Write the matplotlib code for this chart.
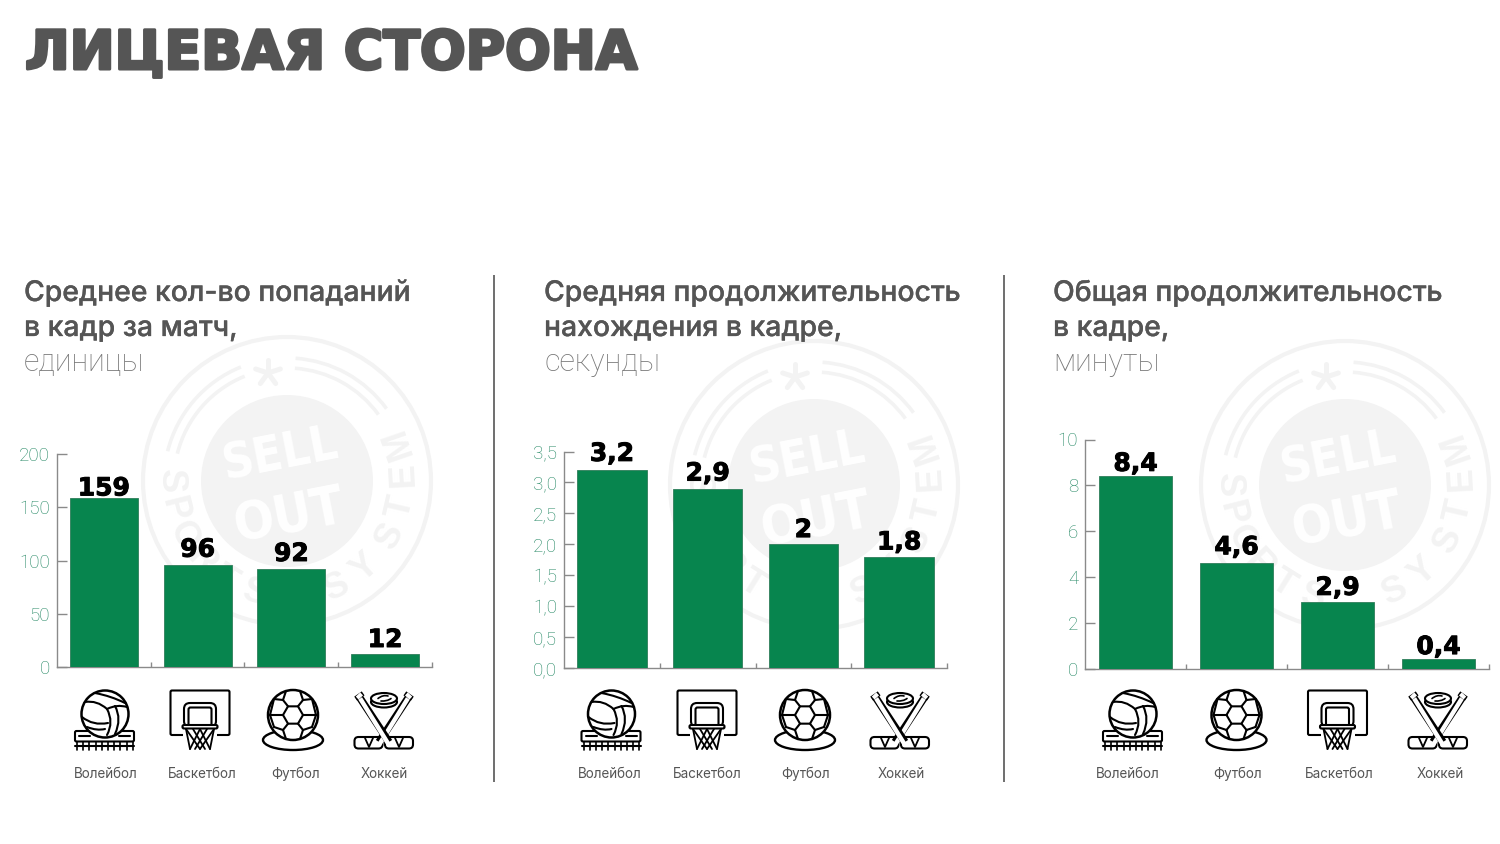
import numpy as np
import matplotlib
matplotlib.use("Agg")
import matplotlib.pyplot as plt
import matplotlib.patheffects as pe
from matplotlib.patches import Circle, Ellipse, FancyBboxPatch, PathPatch, Polygon, Arc
from matplotlib.path import Path

# ---------- data ----------
title = "ЛИЦЕВАЯ СТОРОНА"
head1 = ["Среднее кол-во попаданий", "в кадр за матч,", "единицы"]
head2 = ["Средняя продолжительность", "нахождения в кадре,", "секунды"]
head3 = ["Общая продолжительность", "в кадре,", "минуты"]

cats1 = ["Волейбол", "Баскетбол", "Футбол", "Хоккей"]
vals1 = [159, 96, 92, 12]
lab1 = ["159", "96", "92", "12"]
ticks1 = [0, 50, 100, 150, 200]
ticklab1 = ["0", "50", "100", "150", "200"]

cats2 = ["Волейбол", "Хоккей", "Футбол", "Баскетбол"]
vals2 = [3.2, 2.9, 2.0, 1.8]
lab2 = ["3,2", "2,9", "2", "1,8"]
ticks2 = [0, 0.5, 1, 1.5, 2, 2.5, 3, 3.5]
ticklab2 = ["0,0", "0,5", "1,0", "1,5", "2,0", "2,5", "3,0", "3,5"]

cats3 = ["Волейбол", "Футбол", "Баскетбол", "Хоккей"]
vals3 = [8.4, 4.6, 2.9, 0.4]
lab3 = ["8,4", "4,6", "2,9", "0,4"]
ticks3 = [0, 2, 4, 6, 8, 10]
ticklab3 = ["0", "2", "4", "6", "8", "10"]

# ---------- style / layout ----------
W, H = 1500, 844
GREEN = "#07854e"
GREEN_EDGE = "#2f7d5a"
TICK_TXT = "#1f8560"
AXIS = "#8a8a8a"
DARK = "#555555"
MARK = "#f3f3f3"
ILW = 1.5

fig = plt.figure(figsize=(W / 100, H / 100), dpi=100, facecolor="white")
bg = fig.add_axes([0, 0, 1, 1], zorder=0)
bg.set_xlim(0, W)
bg.set_ylim(H, 0)
bg.axis("off")


def ax_at(x0, x1, y_top, y_bot):
    return fig.add_axes([x0 / W, 1 - y_bot / H, (x1 - x0) / W, (y_bot - y_top) / H],
                        zorder=2, facecolor="none")


def curve(cx, cy, p0, c, p1, lw=ILW, color="black", z=6):
    p = Path([(cx + p0[0], cy + p0[1]), (cx + c[0], cy + c[1]), (cx + p1[0], cy + p1[1])],
             [Path.MOVETO, Path.CURVE3, Path.CURVE3])
    bg.add_patch(PathPatch(p, fc="none", ec=color, lw=lw, zorder=z, capstyle="round"))


def line(xs, ys, lw=ILW, color="black", z=6, cap="round"):
    bg.plot(xs, ys, color=color, lw=lw, zorder=z, solid_capstyle=cap, solid_joinstyle="round")


def rbox(x, y, w, h, r=2, fc="white", ec="black", lw=ILW, z=5):
    bg.add_patch(FancyBboxPatch((x + r, y + r), w - 2 * r, h - 2 * r,
                                boxstyle=f"round,pad={r},rounding_size={r}",
                                fc=fc, ec=ec, lw=lw, zorder=z))


def volleyball(cx):
    cy = 714
    rbox(cx - 30, 731, 59, 10.5, r=1.5)
    line([cx - 26, cx - 15], [736, 736])
    line([cx + 14, cx + 25], [736, 736])
    line([cx - 30, cx + 29], [745.5, 745.5])
    for dx in np.arange(-28, 30, 6.2):
        line([cx + dx, cx + dx], [742, 749.5], lw=1.2)
    bg.add_patch(Circle((cx, cy), 23.5, fc="white", ec="black", lw=ILW + 0.3, zorder=6))
    curve(cx, cy, (-20, -12), (-8, -14), (2, -5))
    curve(cx, cy, (-10, -21), (6, -18), (20, -11))
    curve(cx, cy, (2, -5), (12, -10), (22, -7))
    curve(cx, cy, (2, -5), (9, 8), (2, 21))
    curve(cx, cy, (10, -8), (17, 5), (10, 20))
    curve(cx, cy, (-23, 3), (-12, 12), (3, 9))
    curve(cx, cy, (-18, 13), (-8, 17), (0, 15))


def football(cx):
    cy = 715
    bg.add_patch(Ellipse((cx, 740), 60, 20, fc="white", ec="black", lw=ILW + 0.2, zorder=5))
    bg.add_patch(Circle((cx, cy), 25, fc="white", ec="black", lw=ILW + 0.3, zorder=6))
    ang = np.deg2rad(np.arange(0, 360, 60))
    bg.add_patch(Polygon(np.c_[cx + 10 * np.cos(ang), cy + 10 * np.sin(ang)], closed=True,
                         fc="none", ec="black", lw=ILW, zorder=7))
    for s in (-1, 1):
        segs = [((10, 0), (23, 0)), ((5, -8.7), (10, -15)), ((5, 8.7), (10, 15)),
                ((10, -15), (7, -24)), ((10, -15), (19, -16)), ((10, 15), (7, 24)),
                ((10, 15), (19, 12)), ((23, 0), (19, -16)), ((23, 0), (19, 12))]
        for (xa, ya), (xb, yb) in segs:
            line([cx + s * xa, cx + s * xb], [cy + ya, cy + yb], z=7)


def basket(cx):
    rbox(cx - 29.5, 690.5, 59, 44.5, r=1.5, z=5)
    bg.add_patch(Polygon([(cx - 17, 732), (cx + 17, 732), (cx + 17, 737), (cx - 17, 737)],
                         closed=True, fc="white", ec="none", zorder=6))
    rbox(cx - 16, 703, 32, 24, r=6, z=6)
    rbox(cx - 11.5, 707.5, 23, 20, r=2, z=6)
    rbox(cx - 17.5, 725, 35, 3.5, r=1.5, z=7)
    top = np.linspace(-14, 14, 5)
    bot = np.linspace(-10, 10, 5)
    for i in range(5):
        for j in (i - 2, i + 2):
            if 0 <= j < 5:
                line([cx + top[i], cx + bot[j]], [729, 749], lw=1.3, z=7)
    line([cx + top[0], cx + bot[0]], [729, 749], lw=1.3, z=7)
    line([cx + top[4], cx + bot[4]], [729, 749], lw=1.3, z=7)


def hockey(cx):
    rbox(cx - 29.5, 737, 28, 11.5, r=4, z=5)
    rbox(cx + 1, 737, 28, 11.5, r=4, z=5)
    for x0 in (cx - 15, cx + 15):
        line([x0 - 4, x0, x0 + 4], [738, 747, 738], lw=1.3, z=5)
    for xa, xb in ((cx + 26, cx - 5), (cx - 26, cx + 5)):
        line([xa, xb], [695, 742], lw=5.4, z=6, cap="butt")
        line([xa, xb], [695, 745], lw=3.2, color="white", z=6, cap="butt")
        xh = xa + (xb - xa) * 0.09
        line([xa, xh], [694, 698], lw=6.6, z=6, cap="butt")
        line([xa, xh], [694.5, 697.5], lw=4.4, color="white", z=6, cap="butt")
    bg.add_patch(Ellipse((cx, 702), 26, 11, fc="white", ec="black", lw=ILW, zorder=7))
    bg.add_patch(Ellipse((cx, 698.5), 26, 11, fc="white", ec="black", lw=ILW, zorder=7))
    curve(cx, 698.5, (-6, 0), (-1, -4), (4, -2.5), lw=1.2, z=8)
    curve(cx, 698.5, (-3, 2.5), (3, 3), (7, 0), lw=1.2, z=8)


ICONS = {"Волейбол": volleyball, "Футбол": football, "Баскетбол": basket, "Хоккей": hockey}


def watermark(cx, cy):
    bg.add_patch(Circle((cx, cy), 144, fc="none", ec=MARK, lw=3, zorder=1))
    bg.add_patch(Circle((cx, cy), 86, fc="#f3f3f3", ec="none", zorder=1))
    for r in (123, 113):
        d = 2 * r
        bg.add_patch(Arc((cx, cy), d, d, theta1=360 - 166, theta2=360 - 112, ec=MARK, lw=2.6, zorder=1))
        bg.add_patch(Arc((cx, cy), d, d, theta1=360 - 86, theta2=360 - 36, ec=MARK, lw=2.6, zorder=1))
    ax_, ay_ = cx - 19, cy - 108
    for a in np.deg2rad(np.arange(18, 360, 72)):
        line([ax_, ax_ + 13 * np.cos(a)], [ay_, ay_ - 13 * np.sin(a)], lw=3.6, color=MARK, z=1)
    bg.text(cx - 6, cy - 26, "SELL", family="DejaVu Sans", stretch="condensed", weight="bold", fontsize=35,
            color="white", ha="center", va="center", rotation=11, zorder=2)
    bg.text(cx + 2, cy + 36, "OUT", family="DejaVu Sans", stretch="condensed", weight="bold", fontsize=38,
            color="white", ha="center", va="center", rotation=11, zorder=2)
    letters = "SPORTSSYSTEM"
    angs = [180, 194, 208, 223, 238, 254, 295, 312, 332, 347, 363, 379]
    for ch, th in zip(letters, angs):
        t = np.deg2rad(th)
        bg.text(cx + 117 * np.cos(t), cy - 117 * np.sin(t), ch, family="Liberation Sans",
                weight="bold", fontsize=26, color=MARK, ha="center", va="center",
                rotation=th - 270, rotation_mode="anchor", zorder=1)


def panel(box, ylim, cats, vals, labs, lift, ticks, ticklabs, head, head_x, icon_x, lab_x, wm):
    x0, x1, yt, yb = box
    watermark(*wm)
    ax = ax_at(x0, x1, yt, yb)
    n = len(cats)
    ax.bar(range(n), vals, width=0.725, color=GREEN, edgecolor=GREEN_EDGE, linewidth=0.6, zorder=3)
    ax.set_xlim(-0.5, n - 0.5)
    ax.set_ylim(0, ylim)
    for s in ("top", "right"):
        ax.spines[s].set_visible(False)
    for s in ("left", "bottom"):
        ax.spines[s].set_color(AXIS)
        ax.spines[s].set_linewidth(1.0)
    ax.set_yticks(ticks)
    ax.set_yticklabels(ticklabs, family="Roboto", weight="light", fontsize=13.5, color=TICK_TXT)
    ax.tick_params(axis="y", direction="in", length=7, width=1.0, color=AXIS, pad=5)
    ax.set_xticks(np.arange(n) + 0.5)
    ax.set_xticklabels([])
    ax.tick_params(axis="x", direction="in", length=3.6, width=1.0, color=AXIS)
    for i, (v, l, d) in enumerate(zip(vals, labs, lift)):
        ax.annotate(l, (i, v), xytext=(0, d), textcoords="offset points", ha="center", va="bottom",
                    family="DejaVu Sans", weight="bold", fontsize=18, color="black", zorder=5,
                    path_effects=[pe.withStroke(linewidth=0.7, foreground="black")])
    for c, ix, lx in zip(cats, icon_x, lab_x):
        ICONS[c](ix)
        bg.text(lx, 778, c, family="Inter", fontsize=9.7, color=DARK, ha="center", va="baseline", zorder=6)
    for i, (s, yy) in enumerate(zip(head, (301, 336, 371))):
        if i < 2:
            bg.text(head_x, yy, s, family="Inter", weight="medium", fontsize=20.4, color=DARK,
                    ha="left", va="baseline", zorder=6,
                    path_effects=[pe.withStroke(linewidth=0.2, foreground=DARK)])
        else:
            bg.text(head_x, yy, s, family="Roboto", weight="light", fontsize=22, color="#777777",
                    ha="left", va="baseline", zorder=6)


panel((57, 432, 454, 667), 200, cats1, vals1, lab1, (-2.0, 2.2, 2.2, 1.6), ticks1, ticklab1, head1, 24,
      (105, 200, 293, 384), (106, 202, 296, 384), (287, 481))
panel((564, 947, 451.5, 668), 3.5, cats2, vals2, lab2, (3.0, 2.2, 1.6, 1.6), ticks2, ticklab2, head2, 544,
      (611.5, 900, 805, 707), (610, 901, 806, 707), (814, 485))
panel((1085, 1489, 439.5, 668.5), 10, cats3, vals3, lab3, (0.2, 2.8, 1.6, 0.2), ticks3, ticklab3, head3, 1053,
      (1133, 1236.5, 1337.5, 1438), (1128, 1238, 1339, 1440), (1345, 485))

for xd in (494, 1004):
    line([xd, xd], [275, 782], lw=1.2, color="#555555", z=6, cap="butt")

bg.text(25, 69, title, family="DejaVu Sans", weight="bold", fontsize=38.7, color=DARK, ha="left", va="baseline",
        path_effects=[pe.withStroke(linewidth=2.2, foreground=DARK)], zorder=6)

fig.savefig("out.png", dpi=100, facecolor="white")
